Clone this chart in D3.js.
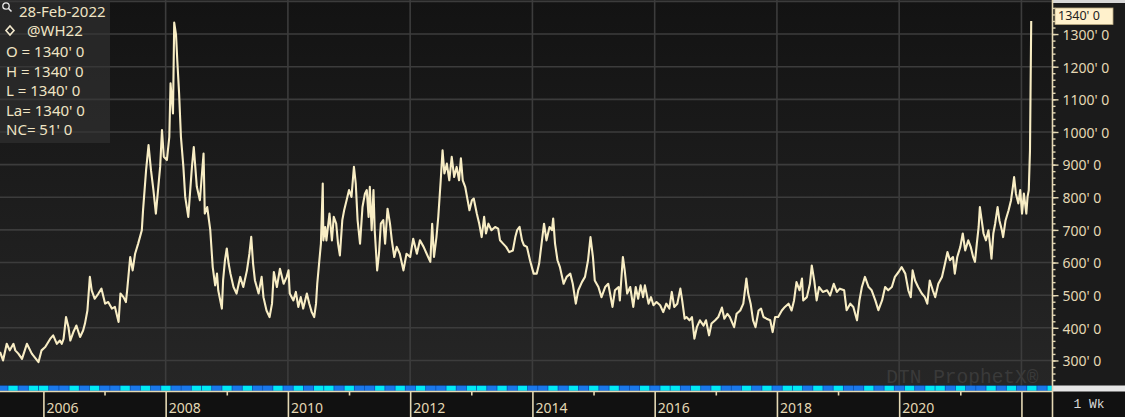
<!DOCTYPE html>
<html><head><meta charset="utf-8">
<script src="https://cdn.jsdelivr.net/npm/d3@7"></script>
<style>
html,body{margin:0;padding:0;background:#111;overflow:hidden;}
svg{display:block;}
</style></head>
<body>
<svg id="c" width="1125" height="417"></svg>
<script>
// ---- DATA (weekly Chicago wheat @WH22 continuation, cents/bu) ----
const dates = [
2005.29,2005.34,2005.40,2005.45,2005.51,2005.54,2005.59,2005.65,2005.73,2005.81,2005.92,2005.97,
2006.03,2006.11,2006.16,2006.22,2006.27,2006.30,2006.33,2006.37,2006.41,2006.44,2006.49,2006.54,2006.60,2006.65,2006.68,2006.72,2006.76,2006.79,2006.84,2006.90,2006.95,
2007.01,2007.06,2007.12,2007.17,2007.23,2007.26,2007.31,2007.35,2007.37,2007.42,2007.46,2007.50,2007.55,2007.61,2007.63,2007.68,2007.72,2007.76,2007.80,2007.84,2007.88,2007.91,2007.94,2007.97,
2008.02,2008.06,2008.08,2008.12,2008.14,2008.17,2008.19,2008.22,2008.25,2008.29,2008.32,2008.37,2008.43,2008.46,2008.51,2008.56,2008.62,2008.64,2008.68,2008.73,2008.77,2008.81,2008.84,2008.86,2008.92,2008.94,2008.97,
2009.00,2009.03,2009.06,2009.11,2009.16,2009.22,2009.27,2009.33,2009.37,2009.40,2009.43,2009.46,2009.52,2009.57,2009.60,2009.65,2009.70,2009.74,2009.77,2009.82,2009.87,2009.93,2009.98,
2010.01,2010.03,2010.09,2010.13,2010.17,2010.21,2010.25,2010.31,2010.35,2010.39,2010.43,2010.46,2010.48,2010.51,2010.54,2010.57,2010.58,2010.61,2010.63,2010.68,2010.72,2010.75,2010.79,2010.82,2010.85,2010.89,2010.92,2010.96,
2011.00,2011.04,2011.08,2011.11,2011.14,2011.18,2011.22,2011.26,2011.29,2011.32,2011.34,2011.37,2011.40,2011.42,2011.46,2011.49,2011.52,2011.56,2011.59,2011.63,2011.67,2011.70,2011.74,2011.78,2011.83,2011.89,2011.94,
2012.00,2012.05,2012.11,2012.16,2012.22,2012.27,2012.33,2012.36,2012.39,2012.43,2012.46,2012.50,2012.53,2012.56,2012.60,2012.64,2012.68,2012.72,2012.76,2012.80,2012.83,2012.86,2012.90,2012.93,2012.97,
2013.01,2013.04,2013.09,2013.13,2013.17,2013.21,2013.24,2013.28,2013.33,2013.39,2013.44,2013.47,2013.52,2013.57,2013.62,2013.68,2013.72,2013.75,2013.79,2013.83,2013.86,2013.91,2013.96,
2014.02,2014.07,2014.11,2014.15,2014.19,2014.23,2014.28,2014.32,2014.34,2014.37,2014.41,2014.45,2014.51,2014.56,2014.62,2014.66,2014.71,2014.75,2014.81,2014.86,2014.91,2014.95,2014.99,
2015.02,2015.08,2015.13,2015.19,2015.24,2015.27,2015.31,2015.35,2015.41,2015.43,2015.48,2015.51,2015.55,2015.60,2015.65,2015.69,2015.73,2015.77,2015.81,2015.84,2015.90,2015.94,2015.98,
2016.03,2016.09,2016.14,2016.19,2016.24,2016.28,2016.32,2016.37,2016.42,2016.45,2016.49,2016.52,2016.57,2016.61,2016.65,2016.69,2016.74,2016.80,2016.84,2016.89,2016.93,2016.99,
2017.04,2017.10,2017.14,2017.19,2017.23,2017.30,2017.34,2017.40,2017.45,2017.50,2017.53,2017.57,2017.61,2017.65,2017.70,2017.74,2017.78,2017.83,2017.89,2017.93,2017.97,
2018.02,2018.08,2018.13,2018.19,2018.24,2018.28,2018.32,2018.37,2018.41,2018.43,2018.49,2018.54,2018.57,2018.61,2018.65,2018.69,2018.75,2018.82,2018.87,2018.93,2018.98,
2019.03,2019.10,2019.14,2019.20,2019.25,2019.31,2019.35,2019.39,2019.44,2019.50,2019.55,2019.61,2019.66,2019.72,2019.77,2019.82,2019.88,2019.93,2019.99,
2020.04,2020.10,2020.15,2020.19,2020.22,2020.26,2020.31,2020.37,2020.42,2020.46,2020.50,2020.55,2020.59,2020.64,2020.70,2020.75,2020.79,2020.83,2020.88,2020.91,2020.95,
2021.00,2021.04,2021.08,2021.13,2021.17,2021.21,2021.24,2021.27,2021.30,2021.32,2021.35,2021.38,2021.42,2021.46,2021.49,2021.51,2021.54,2021.57,2021.61,2021.64,2021.68,2021.70,2021.74,2021.79,2021.83,2021.86,2021.88,2021.91,2021.95,2021.98,
2022.01,2022.04,2022.08,2022.10,2022.12,2022.14,2022.16
];
const prices = [
326,300,351,331,351,331,321,305,351,321,295,331,
341,366,377,351,361,351,366,433,402,361,387,407,372,392,413,453,556,515,489,505,520,
474,479,459,464,418,505,494,479,515,617,576,627,658,699,760,883,960,883,822,750,832,893,1006,924,
914,985,1149,1057,1335,1297,1220,1118,985,893,801,740,893,954,832,791,934,750,770,699,586,530,566,515,459,546,607,
643,597,566,525,505,556,525,576,627,679,597,546,505,556,494,453,433,474,571,525,581,535,556,
576,505,484,510,464,494,459,505,474,448,433,474,535,597,658,842,668,709,668,750,668,740,719,658,622,730,760,791,
822,801,893,842,730,658,770,811,822,740,832,699,822,699,576,627,719,730,658,765,719,668,617,648,627,576,627,
617,673,627,668,648,627,602,719,617,678,740,852,944,873,903,852,924,862,893,852,919,852,832,801,760,
791,796,750,719,678,740,689,719,699,709,704,668,658,648,632,637,678,699,709,668,653,648,607,
566,566,597,658,719,668,709,699,735,658,607,586,535,556,566,535,474,515,540,556,607,678,617,
545,525,494,525,535,505,464,515,525,484,617,576,505,525,464,525,489,530,494,530,474,494,469,
479,469,448,474,459,510,464,474,520,484,428,433,423,433,367,402,423,407,423,377,413,423,
433,462,428,443,433,402,443,453,474,551,505,474,423,402,453,459,433,428,423,387,433,
433,453,464,474,453,484,540,515,551,484,494,535,591,545,484,525,510,515,499,535,510,
520,515,454,474,464,423,484,525,556,525,515,484,454,484,525,515,525,556,571,
586,566,515,494,576,545,525,505,494,474,545,515,494,535,556,597,632,607,617,566,617,
648,689,637,668,648,617,602,658,709,770,729,689,668,699,648,612,689,719,770,729,699,678,729,760,791,832,862,811,781,822,
750,811,750,801,822,944,1340
];
const priceTicks = [300,400,500,600,700,800,900,1000,1100,1200,1300];
const gridPrices = [300,400,500,600,700,800,900,1000,1100,1200,1300,1400];
const gridYears = [2008,2010,2012,2014,2016,2018,2020,2022];
const majorYears = [2006,2008,2010,2012,2014,2016,2018,2020,2022];
const labelYears = [2006,2008,2010,2012,2014,2016,2018,2020];
const minorYears = [2007,2009,2011,2013,2015,2017,2019,2021];
const legendTitle = "28-Feb-2022";
const legendSymbol = "@WH22";
const legendRows = ["O = 1340' 0","H = 1340' 0","L = 1340' 0","La= 1340' 0","NC= 51' 0"];
const lastPrice = 1340;
const periodLabel = "1 Wk";
const watermark = "DTN ProphetX\u00AE";
// two-month indicator strip states (b = blue, c = cyan)
const stripStates = "bcbccbbcbcbbcbcbcbbccbcbcbbcbcbccbcbbcbcbcbbcbccbcbcbbcbcbcbcbbcbccbcbcbbcbcbccbcbcbbcbcbcbccbcbbcbcbcbcb";

// ---- LAYOUT ----
const W = 1125, H = 417;
const plotR = 1052, plotB = 385.5, axisY = 391.5;
const cream = "#e4d8b4";
const svg = d3.select("#c");
const defs = svg.append("defs");
const grad = defs.append("linearGradient").attr("id","bg").attr("x1",0).attr("y1",0).attr("x2",0).attr("y2",1);
grad.append("stop").attr("offset","0%").attr("stop-color","#131313");
grad.append("stop").attr("offset","100%").attr("stop-color","#262626");

const x = d3.scaleLinear().domain([2005.29, 2022.50]).range([0, plotR]);
const y = d3.scaleLinear().domain([223.3, 1404.3]).range([plotB, 0]);

// backgrounds
svg.append("rect").attr("x",0).attr("y",0).attr("width",W).attr("height",H).attr("fill","#111");
svg.append("rect").attr("x",0).attr("y",0).attr("width",plotR).attr("height",plotB).attr("fill","url(#bg)");
svg.append("rect").attr("x",plotR).attr("y",0).attr("width",W-plotR).attr("height",axisY).attr("fill","#1b1b1b");
svg.append("rect").attr("x",plotR+1).attr("y",0).attr("width",W-plotR).attr("height",3).attr("fill","#d8d8d8");

// grid
const grid = svg.append("g");
grid.selectAll("line.h").data(gridPrices).join("line")
  .attr("x1",0).attr("x2",plotR).attr("y1",d=>y(d)).attr("y2",d=>y(d))
  .attr("stroke","#3c3c3c").attr("stroke-width",1.6);
grid.selectAll("line.v").data(gridYears).join("line")
  .attr("x1",d=>x(d)).attr("x2",d=>x(d)).attr("y1",0).attr("y2",plotB)
  .attr("stroke","#3c3c3c").attr("stroke-width",1.6);

// watermark
svg.append("text").attr("x",x(2019.79)).attr("y",383).text(watermark)
  .attr("font-family","'Liberation Mono', 'DejaVu Sans Mono', monospace").attr("font-size",19.5)
  .attr("fill","#3a3a3a");

// indicator strip
const stripG = svg.append("g");
stripG.append("rect").attr("x",0).attr("y",plotB).attr("width",plotR).attr("height",axisY-plotB).attr("fill","#0e4fae");
const cells = Array.from(stripStates).map((s,i)=>({t0:2005.25 + i/6, t1:2005.25 + (i+1)/6, s}));
stripG.selectAll("rect.cell").data(cells.filter(c=>x(c.t0) < plotR)).join("rect")
  .attr("x",d=>x(d.t0)+0.6).attr("y",plotB+0.3)
  .attr("width",d=>Math.max(0, Math.min(x(d.t1), plotR) - x(d.t0) - 0.8))
  .attr("height",axisY-plotB-1.1)
  .attr("fill",d=>d.s==="c" ? "#00eaf4" : "#1a78ea");
svg.append("rect").attr("x",plotR+1).attr("y",plotB).attr("width",W-plotR).attr("height",axisY-plotB).attr("fill","#e6e6e6");

// price line
const line = d3.line().x((d,i)=>x(dates[i])).y(d=>y(d));
svg.append("path").datum(prices).attr("d",line)
  .attr("fill","none").attr("stroke","#f8edc4").attr("stroke-width",2.1).attr("stroke-linejoin","round");

// bottom axis
const bottom = svg.append("g").attr("transform",`translate(0,${axisY})`);
const axMajor = d3.axisBottom(x).tickValues(majorYears).tickSize(H-axisY).tickFormat("");
bottom.call(axMajor);
const axMinor = d3.axisBottom(x).tickValues(minorYears).tickSize(4).tickFormat("");
const minorG = svg.append("g").attr("transform",`translate(0,${axisY})`).call(axMinor);
[bottom, minorG].forEach(g=>{
  g.select(".domain").remove();
  g.selectAll(".tick line").attr("stroke",cream).attr("stroke-width",1.6);
});
svg.append("line").attr("x1",0).attr("x2",plotR).attr("y1",axisY).attr("y2",axisY).attr("stroke",cream).attr("stroke-width",1.6);
svg.append("g").selectAll("text").data(labelYears).join("text")
  .attr("x",d=>x(d)+3).attr("y",413).text(d=>d)
  .attr("font-family","'Noto Sans', sans-serif").attr("font-size",14).attr("fill",cream);

// right axis
const rightMinor = d3.axisRight(y).tickValues(d3.range(240, 1400, 20)).tickSize(3).tickFormat("");
const rm = svg.append("g").attr("transform",`translate(${plotR+0.5},0)`).call(rightMinor);
const rightMajor = d3.axisRight(y).tickValues(priceTicks).tickSize(6).tickPadding(4).tickFormat(d=>d+"' 0");
const rM = svg.append("g").attr("transform",`translate(${plotR+0.5},0)`).call(rightMajor);
[rm, rM].forEach(g=>{
  g.select(".domain").remove();
  g.selectAll(".tick line").attr("stroke",cream).attr("stroke-width",1.4);
});
rM.selectAll(".tick text").attr("fill",cream).attr("font-family","'Noto Sans', sans-serif").attr("font-size",14).attr("dy","0.38em");
svg.append("line").attr("x1",plotR+0.5).attr("x2",plotR+0.5).attr("y1",0).attr("y2",H).attr("stroke",cream).attr("stroke-width",1.6);

// last price box
const lp = svg.append("g");
const lpY = y(lastPrice) - 5;
lp.append("rect").attr("x",plotR+3).attr("y",lpY-8).attr("width",58).attr("height",16.5).attr("fill","#fff1cc").attr("stroke","#b8a880").attr("stroke-width",0.8);
lp.append("text").attr("x",plotR+6).attr("y",lpY).attr("dy","0.36em").text(lastPrice+"' 0")
  .attr("font-family","'Noto Sans', sans-serif").attr("font-size",12.5).attr("fill","#222");

// period label
svg.append("text").attr("x",1089).attr("y",408).attr("text-anchor","middle").text(periodLabel)
  .attr("font-family","'Liberation Mono', monospace").attr("font-size",13).attr("fill","#d8d8d8");

// legend
const lg = svg.append("g");
lg.append("rect").attr("x",0).attr("y",0).attr("width",110).attr("height",143).attr("fill","rgba(52,52,52,0.6)");
// magnifier icon
lg.append("circle").attr("cx",6).attr("cy",6).attr("r",3.2).attr("fill","none").attr("stroke","#e8e8e8").attr("stroke-width",1.3);
lg.append("line").attr("x1",8.3).attr("y1",8.3).attr("x2",11.5).attr("y2",11.5).attr("stroke","#e8e8e8").attr("stroke-width",1.6);
// diamond
lg.append("path").attr("d","M10,26 L14,30.5 L10,35 L6,30.5 Z").attr("fill","none").attr("stroke","#f2e8cc").attr("stroke-width",1.6);
const tf = "'Noto Sans', sans-serif";
lg.append("text").attr("x",19).attr("y",17).text(legendTitle).attr("font-family",tf).attr("font-size",15).attr("fill","#efe4c4");
lg.append("text").attr("x",27).attr("y",36).text(legendSymbol).attr("font-family",tf).attr("font-size",15).attr("fill","#efe4c4");
lg.selectAll("text.row").data(legendRows).join("text").attr("class","row")
  .attr("x",6).attr("y",(d,i)=>57 + i*19.6).text(d=>d)
  .attr("font-family",tf).attr("font-size",15).attr("fill","#efe4c4");
</script>
</body></html>
